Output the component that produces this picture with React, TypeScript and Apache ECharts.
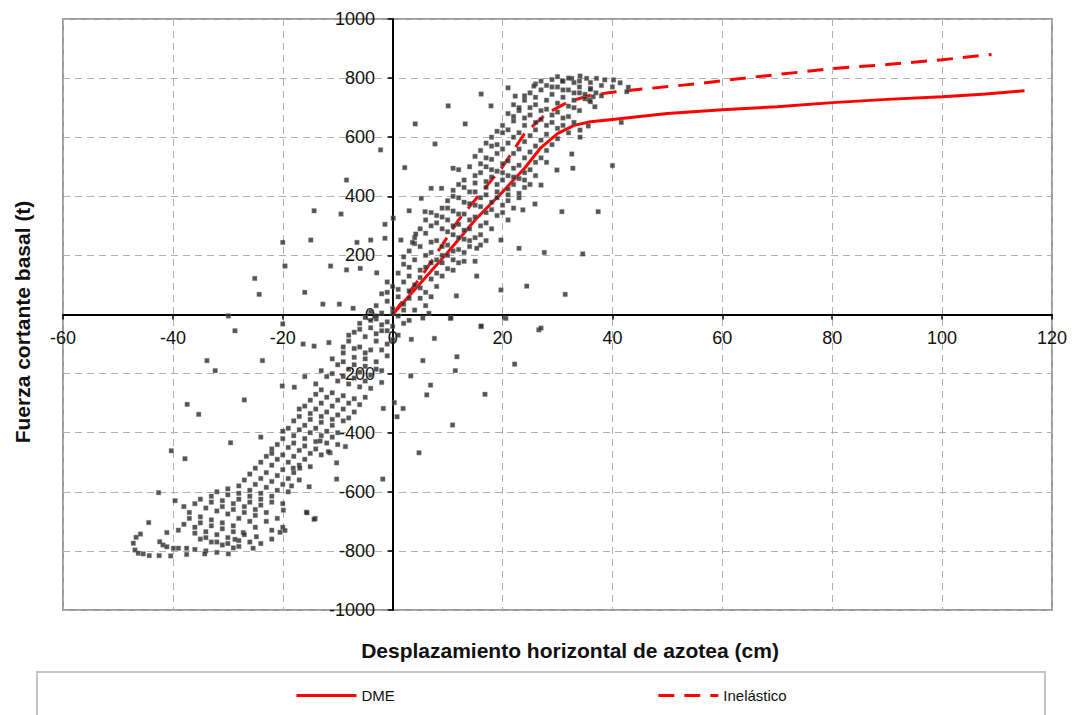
import React, { useEffect, useRef } from "react";
import * as echarts from "echarts";

// Axis ranges / ticks
const xTicks = [-60, -40, -20, 0, 20, 40, 60, 80, 100, 120];
const yTicks = [-1000, -800, -600, -400, -200, 0, 200, 400, 600, 800, 1000];

// Envelope curves (desplazamiento cm, fuerza t)
const dmeCurve: [number, number][] = [
  [0, 0], [5, 105], [10, 210], [15, 320], [20, 415], [24, 495], [27, 565], [30, 612],
  [33, 640], [36, 652], [40, 660], [45, 670], [50, 680], [60, 693], [70, 703],
  [80, 717], [90, 728], [100, 737], [108, 746], [115, 757],
];
const inelasticCurve: [number, number][] = [
  [0, 0], [6, 150], [12, 320], [16, 410], [20, 500], [24, 612], [28, 680], [32, 720],
  [36, 742], [40, 752], [45, 762], [55, 780], [63, 798], [70, 812], [80, 832],
  [90, 846], [100, 862], [109, 880],
];

// Time-history points: upper branch of the hysteresis cloud
const loopUpper: [number, number][] = [
  [-4, 10], [-3, 30], [-2, 5], [-1, 45], [0, 20], [1, 60], [2, 35], [3, 80], [4, 15], [5, 55],
  [-2, 70], [0, 95], [2, 110], [4, 100], [6, 75], [1, 140], [3, 130], [5, 150], [7, 120], [-1, 110],
  [8, 95], [6, 30], [-3, -15], [-1, -25], [1, -5], [3, -20],
  [2, 170], [4, 185], [6, 160], [8, 140], [9, 175], [3, 215], [5, 230], [7, 210], [9, 200], [11, 185],
  [4, 260], [6, 275], [8, 250], [10, 235], [12, 220], [7, 300], [9, 290], [11, 270], [13, 255], [14, 230],
  [6, 320], [8, 335], [10, 320], [12, 305], [14, 290], [16, 270], [13, 210], [11, 150], [15, 180],
  [9, 360], [11, 350], [13, 340], [15, 330], [17, 310], [10, 385], [12, 395], [14, 375], [16, 365], [18, 355],
  [20, 345], [11, 420], [13, 430], [15, 415], [17, 405], [19, 395], [21, 385], [13, 455], [15, 470], [17, 450],
  [19, 440], [21, 425], [23, 410], [14, 500], [16, 510], [18, 490], [20, 480], [22, 465], [24, 455], [12, 490],
  [17, 530], [19, 545], [21, 520], [23, 505], [25, 490],
  [16, 555], [18, 570], [20, 560], [22, 545], [24, 530], [26, 515], [18, 600], [20, 615], [22, 600], [24, 585],
  [26, 570], [28, 555], [20, 640], [22, 655], [24, 640], [26, 625], [28, 610], [30, 595], [21, 680], [23, 690],
  [25, 675], [27, 660], [29, 650], [31, 640], [22, 710], [24, 725], [26, 710], [28, 695], [30, 685], [32, 670],
  [33, 700], [25, 750], [27, 760], [29, 745], [31, 735], [33, 725], [26, 780], [28, 775], [30, 770], [32, 760],
  [34, 750], [35, 730], [29, 795], [31, 790], [33, 785], [34, 770], [36, 765], [37, 750], [38, 740],
  [34.1, 807], [32.6, 799], [30.9, 790], [35.3, 799], [37.1, 799], [38.6, 794], [40.2, 794], [41.4, 784],
  [42.9, 769], [42.6, 754], [36, 762], [36.5, 737], [35.8, 726], [36.8, 703], [35.6, 638], [34.1, 624], [34.1, 600],
];

// Denser core of the upper branch
const loopUpperCore: [number, number][] = [
  [-2, -35], [0, 5], [2, 15], [-1, 75], [1, 85], [3, 55], [5, 90], [7, 60], [2, 195], [3, 160], [5, 125],
  [7, 175], [9, 130], [10, 155], [4, 240], [6, 200], [8, 185], [10, 200], [12, 175], [5, 290], [7, 245],
  [9, 230], [11, 215], [13, 180], [8, 310], [10, 280], [12, 260], [14, 250], [16, 235], [7, 345], [9, 330],
  [11, 300], [13, 285], [15, 260], [17, 250], [10, 360], [12, 340], [14, 320], [16, 300], [18, 290], [11, 400],
  [13, 380], [15, 370], [17, 345], [19, 335], [21, 320], [12, 440], [14, 415], [16, 395], [18, 380], [20, 370],
  [22, 360], [15, 445], [17, 430], [19, 415], [21, 405], [23, 395], [16, 480], [18, 465], [20, 455], [22, 440],
  [24, 430], [15, 535], [17, 500], [19, 485], [21, 470], [23, 460], [25, 440], [18, 525], [20, 510], [22, 495],
  [24, 480], [26, 470], [17, 580], [19, 575], [21, 580], [23, 560], [25, 550], [27, 530], [19, 620], [21, 625],
  [23, 615], [25, 605], [27, 590], [29, 575], [22, 670], [24, 665], [26, 650], [28, 640], [30, 630], [32, 615],
  [23, 700], [25, 700], [27, 690], [29, 675], [31, 665], [33, 650], [24, 740], [26, 735], [28, 725], [30, 715],
  [32, 705], [34, 690], [27, 790], [29, 770], [31, 760], [33, 750], [35, 745], [36, 720], [30, 805], [32, 800],
  [34, 790], [36, 785], [38, 775], [40, 770],
];

// Lower branch of the hysteresis cloud
const loopLower: [number, number][] = [
  [-5, -10], [-6, -30], [-4, -45], [-2, -55], [0, -40], [1, -70], [-7, -60], [-5, -75], [-3, -90], [-1, -100],
  [0, -85], [-8, -90], [-6, -110], [-4, -120], [2, -30], [-3, -5],
  [-9, -130], [-7, -145], [-5, -150], [-3, -160], [-1, -140], [-10, -170], [-8, -185], [-6, -195], [-4, -205],
  [-2, -190], [-12, -210], [-10, -225], [-8, -235], [-6, -245], [-4, -250], [-13, -255], [-11, -265], [-9, -275],
  [-7, -285], [-5, -280], [-15, -290], [-13, -300], [-11, -310], [-9, -320], [-7, -330], [-14, -235], [-2, -230],
  [-17, -320], [-15, -335], [-13, -345], [-11, -355], [-9, -360], [-18, -360], [-16, -375], [-14, -385], [-12, -395],
  [-10, -400], [-20, -395], [-18, -410], [-16, -420], [-14, -430], [-12, -435], [-21, -440], [-19, -450], [-17, -460],
  [-15, -470], [-13, -475], [-23, -480], [-21, -490], [-19, -500], [-17, -510], [-15, -515], [-22, -455], [-24, -415],
  [-10, -440],
  [-25, -520], [-23, -535], [-21, -545], [-19, -555], [-17, -560], [-27, -560], [-25, -575], [-23, -585], [-21, -595],
  [-19, -600], [-30, -590], [-28, -605], [-26, -615], [-24, -625], [-22, -635], [-20, -640], [-33, -615], [-31, -630],
  [-29, -640], [-27, -650], [-25, -660], [-23, -670], [-36, -640], [-34, -655], [-32, -665], [-30, -675], [-28, -690],
  [-26, -700], [-37, -670], [-35, -685], [-33, -695], [-31, -705], [-29, -715], [-21, -690], [-20, -720], [-38, -650],
  [-36, -720], [-34, -735], [-32, -745], [-30, -755], [-28, -765], [-26, -770], [-35, -760], [-33, -770], [-31, -780],
  [-29, -790], [-36, -795], [-34, -800], [-32, -805], [-24, -775], [-22, -760],
  [-47.2, -774], [-46.9, -797], [-46.3, -808], [-45.4, -810], [-44.3, -816], [-42.5, -816], [-40.4, -817],
  [-46.7, -754], [-45.9, -743], [-42.4, -769], [-41.8, -780], [-41.1, -738], [-41.1, -786], [-39.9, -791],
  [-39, -791], [-37.5, -791], [-37.5, -812], [-34.2, -810], [-29.9, -810], [-25.4, -791], [-20.5, -737],
  [-19.6, -731], [-15.7, -669], [-14.1, -690], [-19.9, -662], [-27.2, -738], [-24.8, -752], [-28.7, -761],
];

// Denser core of the lower branch
const loopLowerCore: [number, number][] = [
  [-4, -20], [-6, -50], [-8, -70], [-3, -65], [-1, -55], [-2, -120], [-5, -130], [-7, -115], [-9, -110],
  [-11, -150], [-9, -160], [-7, -170], [-5, -175], [-3, -185], [-13, -190], [-11, -200], [-9, -210], [-7, -215],
  [-5, -225], [-14, -270], [-12, -280], [-10, -290], [-8, -300], [-6, -305], [-16, -310], [-14, -320], [-12, -330],
  [-10, -340], [-8, -350], [-17, -345], [-15, -355], [-13, -365], [-11, -375], [-19, -385], [-17, -390], [-15, -400],
  [-13, -410], [-11, -415], [-20, -420], [-18, -435], [-16, -445], [-14, -455], [-22, -470], [-20, -475], [-18, -480],
  [-16, -490], [-24, -500], [-22, -510], [-20, -525], [-18, -535], [-26, -540], [-24, -555], [-22, -565], [-20, -575],
  [-28, -580], [-26, -595], [-24, -605], [-22, -615], [-32, -600], [-30, -610], [-28, -625], [-26, -635], [-24, -645],
  [-35, -625], [-33, -635], [-31, -650], [-29, -660], [-27, -670], [-25, -680], [-37, -690], [-35, -705], [-33, -715],
  [-31, -725], [-29, -735], [-27, -745], [-38, -710], [-36, -740], [-34, -755], [-32, -770], [-30, -775], [-28, -785],
  [-39, -730], [-25, -720], [-23, -700], [-22, -730],
];

// Scattered outlying points
const scatterSparse: [number, number][] = [
  [16.1, 746], [21, 767], [22.3, 739], [25.7, 773], [10.1, 706], [17.9, 706], [13.2, 645], [4.1, 645],
  [7.7, 577], [2.2, 497], [11, 495], [7, 427], [8.9, 427], [5.2, 393], [0.1, 326], [3, 351], [5.9, 348],
  [-1.4, 305], [-1.4, 258], [1.5, 252], [3.6, 244], [4.2, 272], [-2.2, 557], [-8.4, 455], [-14.3, 351],
  [-9.4, 340], [-20, 244], [-14.9, 252], [-19.6, 164], [-25.1, 122], [-24.3, 68], [-16, 75], [-12.7, 35],
  [-9.7, 35], [-11.3, 164], [-8.4, 151], [-5.9, 156], [-6.5, 244], [-4, 252], [-2.9, 141], [-7.2, 21],
  [-29.9, -5], [-28.7, -55], [-16.3, -100], [-14.3, -107], [-11.6, -95], [-20, -32], [-33.8, -156],
  [-32.3, -190], [-23.7, -156], [-16, -210], [-20.1, -242], [-17.9, -246], [-27, -289], [-37.4, -304],
  [-35.3, -338], [-29.5, -434], [-40.3, -461], [-37.8, -488], [-42.6, -603], [-39.6, -630], [-44.4, -704],
  [-15.6, -671], [-14.3, -693], [-1.8, -557], [-10.2, -557], [-11.4, -468], [-10.2, -502], [-8.6, -447],
  [-1.7, -318], [0.3, -298], [0.8, -346], [1.9, -318], [4.8, -468], [6.9, -239], [6.2, -272], [3.3, -208],
  [5.5, -156], [7.6, -81], [10.9, -374], [11.4, -190], [11.7, -143], [16.8, -270], [22.2, -168], [16.1, -41],
  [10.5, -13], [6.6, 4], [5.5, -12], [3.4, -84], [20.6, -13], [26.6, -52], [-13.2, -428], [-11.7, -464],
  [-16.9, -520], [-18.1, -520], [-15.2, -583], [-18.4, -580],
  [32.6, 543], [32.8, 495], [29.9, 489], [28, 515], [27, 438], [25.9, 374], [23.7, 354], [30.8, 348],
  [37.4, 348], [34.6, 205], [27.6, 210], [23, 224], [24.4, 96], [31.4, 68], [40, 504], [41.6, 650],
  [19.7, 252], [19.7, 83], [15.3, 224], [15.3, 130], [11.6, 63], [10.6, -12], [16.1, -39], [27, -46],
];

const FONT = "'Liberation Sans', Arial, sans-serif";

export default function App() {
  const ref = useRef<HTMLDivElement>(null);

  useEffect(() => {
    document.body.style.margin = "0";
    const chart = echarts.init(ref.current!, null, { renderer: "svg" });
    const option = {
      animation: false,
      backgroundColor: "#ffffff",
      grid: {
        left: 63,
        right: 24,
        top: 19,
        bottom: 105,
        show: true,
        borderColor: "#9a9a9a",
        borderWidth: 2,
        backgroundColor: "transparent",
      },
      xAxis: {
        type: "value",
        min: -60,
        max: 120,
        interval: 20,
        axisLine: { onZero: true, lineStyle: { color: "#000", width: 2 } },
        axisTick: { show: true, length: 5, lineStyle: { color: "#000", width: 1.5 } },
        axisLabel: {
          color: "#111",
          fontSize: 18,
          fontFamily: FONT,
          margin: -281,
          formatter: (v: number) => (xTicks.includes(v) ? String(v) : ""),
        },
        splitLine: { show: true, lineStyle: { color: "#b0b0b0", type: [7, 5], width: 1 } },
      },
      yAxis: {
        type: "value",
        min: -1000,
        max: 1000,
        interval: 200,
        axisLine: { onZero: true, lineStyle: { color: "#000", width: 2 } },
        axisTick: { show: true, length: 5, lineStyle: { color: "#000", width: 1.5 } },
        axisLabel: {
          color: "#111",
          fontSize: 18,
          fontFamily: FONT,
          margin: -312,
          formatter: (v: number) => (yTicks.includes(v) ? String(v) : ""),
        },
        splitLine: { show: true, lineStyle: { color: "#b0b0b0", type: [7, 5], width: 1 } },
      },
      legend: {
        data: ["DME", "Inelástico"],
        left: 290,
        top: 683,
        itemWidth: 60,
        itemHeight: 14,
        itemGap: 262,
        itemStyle: { opacity: 0 },
        lineStyle: { width: 3 },
        textStyle: { fontSize: 15, fontFamily: FONT, color: "#111" },
      },
      graphic: [
        {
          type: "rect",
          shape: { x: 37, y: 672, width: 1008, height: 70 },
          style: { fill: "none", stroke: "#c4c4c4", lineWidth: 2 },
          silent: true,
        },
        {
          type: "text",
          x: 570,
          y: 650,
          style: {
            text: "Desplazamiento horizontal de azotea (cm)",
            font: `bold 21px ${FONT}`,
            fill: "#111",
            textAlign: "center",
            textVerticalAlign: "middle",
          },
        },
        {
          type: "text",
          x: 22,
          y: 322,
          rotation: Math.PI / 2,
          style: {
            text: "Fuerza cortante basal (t)",
            font: `bold 21px ${FONT}`,
            fill: "#111",
            textAlign: "center",
            textVerticalAlign: "middle",
          },
        },
      ],
      series: [
        {
          name: "DME",
          type: "line",
          data: dmeCurve,
          symbol: "none",
          z: 2,
          lineStyle: { color: "#ff0000", width: 3 },
          itemStyle: { color: "#ff0000" },
        },
        {
          name: "Inelástico",
          type: "line",
          data: inelasticCurve,
          symbol: "none",
          z: 2,
          lineStyle: { color: "#ff0000", width: 3, type: [16, 10] },
          itemStyle: { color: "#ff0000" },
        },
        {
          name: "Registro",
          type: "scatter",
          data: [...loopUpper, ...loopUpperCore, ...loopLower, ...loopLowerCore, ...scatterSparse],
          symbol: "rect",
          symbolSize: 4.5,
          z: 3,
          itemStyle: { color: "#2b2b2b", borderColor: "#8a8a8a", borderWidth: 0.5 },
        },
      ],
    };
    chart.setOption(option as any);
    return () => chart.dispose();
  }, []);

  return <div ref={ref} style={{ width: 1076, height: 715 }} />;
}
